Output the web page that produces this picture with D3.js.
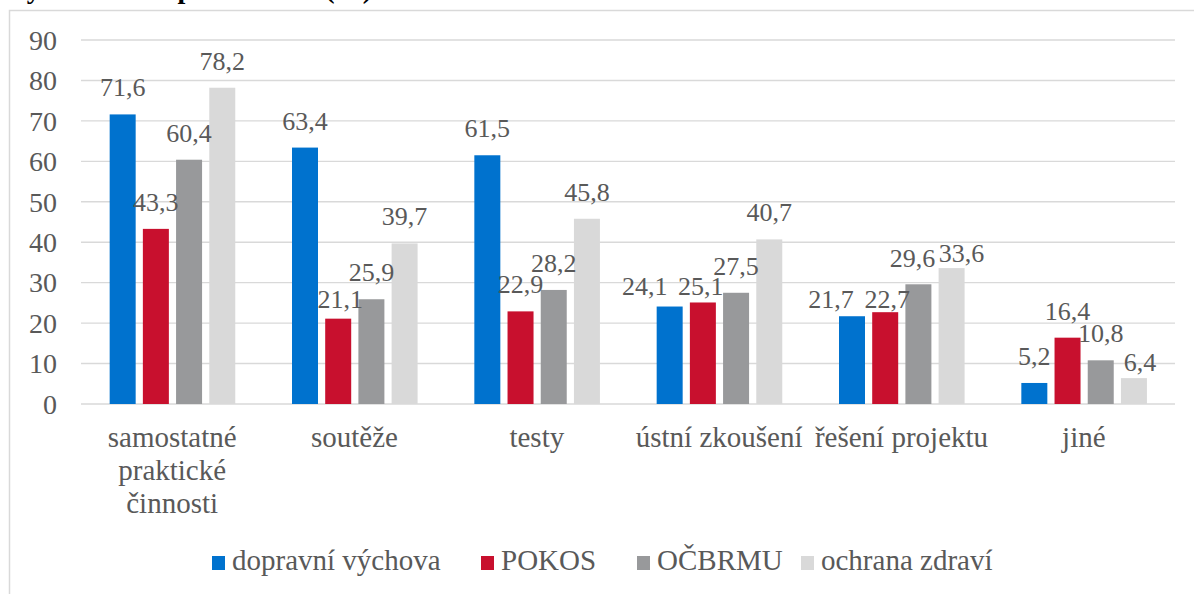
<!DOCTYPE html>
<html>
<head>
<meta charset="UTF-8">
<title>Graf</title>
<style>
  body { margin:0; background:#fff; }
  svg { display:block; }
</style>
</head>
<body>
<svg width="1194" height="594"></svg>
<script src="https://cdnjs.cloudflare.com/ajax/libs/d3/7.8.5/d3.min.js"></script>
<script>
const categories = [["samostatné", "praktické", "činnosti"], ["soutěže"], ["testy"], ["ústní zkoušení"], ["řešení projektu"], ["jiné"]]
const seriesNames = ["dopravní výchova", "POKOS", "OČBRMU", "ochrana zdraví"]
const dopravni = [71.6, 63.4, 61.5, 24.1, 21.7, 5.2]
const pokos = [43.3, 21.1, 22.9, 25.1, 22.7, 16.4]
const ocbrmu = [60.4, 25.9, 28.2, 27.5, 29.6, 10.8]
const ochrana = [78.2, 39.7, 45.8, 40.7, 33.6, 6.4]
const yTicks = [0, 10, 20, 30, 40, 50, 60, 70, 80, 90]
const colors = ["#0072CE", "#C8102E", "#98999B", "#D9D9D9"]

const series = [dopravni, pokos, ocbrmu, ochrana]
const serif = "Liberation Serif"
const textColor = "#595959"

const svg = d3.select("svg")

// chart frame (cut off on the right and bottom)
svg.append("rect")
  .attr("x", 9.5).attr("y", 10.5)
  .attr("width", 1300).attr("height", 700)
  .attr("fill", "none").attr("stroke", "#d9d9d9").attr("stroke-width", 1.5)

// title, mostly outside the picture
svg.append("text")
  .attr("x", 372).attr("y", -2)
  .attr("text-anchor", "end")
  .attr("font-weight", "bold").attr("font-size", 28).attr("fill", "#000")
  .text("Formy hodnocení podle témat (%)")

const plotLeft = 81, plotRight = 1175, plotTop = 40, plotBottom = 404

const y = d3.scaleLinear().domain([0, 90]).range([plotBottom, plotTop])
const x0 = d3.scaleBand().domain(d3.range(categories.length)).range([plotLeft, plotRight])
const x1 = d3.scaleBand().domain(d3.range(series.length)).range([0, 132.8])
const barW = 26

// label nudges where Excel moved overlapping data labels
const labelNudge = {
  "1-1": [2, 7], "3-0": [-25, 6], "3-1": [-2, 11], "4-0": [-21, 10],
  "4-1": [2, 14], "4-2": [-6, 1], "4-3": [10, 12], "5-3": [6, 11]
}

// gridlines
svg.append("g").selectAll("line").data(yTicks).join("line")
  .attr("x1", plotLeft).attr("x2", plotRight)
  .attr("y1", d => y(d)).attr("y2", d => y(d))
  .attr("stroke", "#d9d9d9").attr("stroke-width", 1.4)

// y tick labels
svg.append("g").selectAll("text").data(yTicks).join("text")
  .attr("x", 57).attr("y", d => y(d))
  .attr("dy", "0.35em")
  .attr("text-anchor", "end")
  .style("font-size", "28px").attr("fill", textColor)
  .text(d => d)

const groups = svg.append("g").selectAll("g").data(categories).join("g")
  .attr("transform", (d, i) => `translate(${x0(i) + x0.bandwidth() / 2 - 62.5},0)`)

groups.selectAll("rect")
  .data((d, i) => series.map((s, j) => ({ v: s[i], i, j })))
  .join("rect")
  .attr("x", d => x1(d.j))
  .attr("y", d => y(d.v))
  .attr("width", barW)
  .attr("height", d => plotBottom - y(d.v))
  .attr("fill", d => colors[d.j])

groups.selectAll("text.val")
  .data((d, i) => series.map((s, j) => ({ v: s[i], i, j })))
  .join("text")
  .attr("class", "val")
  .attr("x", d => x1(d.j) + barW / 2 + (labelNudge[d.i + "-" + d.j] || [0, 0])[0])
  .attr("y", d => y(d.v) - 18 + (labelNudge[d.i + "-" + d.j] || [0, 0])[1])
  .attr("text-anchor", "middle")
  .style("font-size", "26px").attr("fill", textColor)
  .text(d => d3.format(".1f")(d.v).replace(".", ","))

// category labels
const cat = svg.append("g").selectAll("text").data(categories).join("text")
  .attr("x", (d, i) => x0(i) + x0.bandwidth() / 2)
  .attr("y", 447)
  .attr("text-anchor", "middle")
  .style("font-size", "29px").attr("fill", textColor)
cat.selectAll("tspan").data(d => d).join("tspan")
  .attr("x", function () { return d3.select(this.parentNode).attr("x") })
  .attr("dy", (d, i) => i === 0 ? 0 : 33)
  .text(d => d)

// legend
const legendX = [212, 481, 637, 801]
const legend = svg.append("g").selectAll("g").data(seriesNames).join("g")
  .attr("transform", (d, i) => `translate(${legendX[i]},0)`)
legend.append("rect")
  .attr("x", 0).attr("y", 556).attr("width", 13).attr("height", 14)
  .attr("fill", (d, i) => colors[i])
legend.append("text")
  .attr("x", 20).attr("y", 570)
  .style("font-size", "29px").attr("fill", textColor)
  .text(d => d)

svg.selectAll("text, tspan").style("font-family", serif)
</script>
</body>
</html>
